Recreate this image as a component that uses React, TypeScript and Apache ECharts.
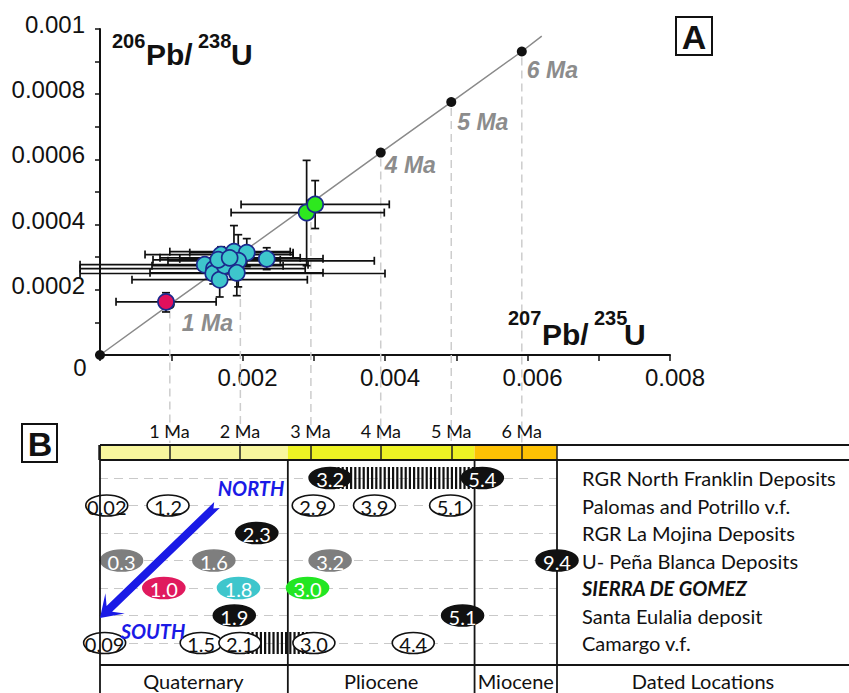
import React, { useEffect, useRef } from 'react';
import * as echarts from 'echarts';

// ---------- Panel A data ----------
const concordiaAges = ['0', '1 Ma', '2 Ma', '3 Ma', '4 Ma', '5 Ma', '6 Ma'];
const concordiaX = [0, 0.00098, 0.00197, 0.00296, 0.00394, 0.00493, 0.00592];
const concordiaY = [0, 0.000155, 0.00031, 0.000466, 0.000621, 0.000776, 0.000931];
const concordiaEnd = [0.0062, 0.000978];
const ageLabelShown = [false, true, false, false, true, true, true];

const cyanX = [0.00147, 0.0016, 0.00159, 0.00168, 0.0017, 0.00175, 0.00166, 0.00188, 0.00206, 0.00194, 0.00192, 0.00234, 0.00182];
const cyanY = [0.000277, 0.000265, 0.00025, 0.000231, 0.000308, 0.000274, 0.000292, 0.000317, 0.000314, 0.000289, 0.000252, 0.000295, 0.000298];
const cyanXLo = [-0.00028, -0.00028, -0.00028, 0.000449, 0.000632, 0.00073, 0.000744, 0.00098, 0.00126, 0.000954, 0.000702, 0.00112, 0.000842];
const cyanXHi = [0.00292, 0.00288, 0.004, 0.00291, 0.00271, 0.00257, 0.00253, 0.00267, 0.00271, 0.00385, 0.00313, 0.00313, 0.00281];
const cyanYLo = [0.000255, 0.000243, 0.000218, 0.000178, 0.000283, 0.000249, 0.000268, 0.000237, 0.000271, 0.000209, 0.000182, 0.000262, 0.000274];
const cyanYHi = [0.000298, 0.000286, 0.000274, 0.000271, 0.000332, 0.000298, 0.000317, 0.000397, 0.000357, 0.000369, 0.000323, 0.000329, 0.000323];

const redX = [0.000926];
const redY = [0.000163];
const redXLo = [0.000225];
const redXHi = [0.00163];
const redYLo = [0.000132];
const redYHi = [0.000191];

const greenX = [0.0029, 0.00302];
const greenY = [0.000437, 0.000462];
const greenXLo = [0.00184, 0.00198];
const greenXHi = [0.00399, 0.00406];
const greenYLo = [0.000274, 0.000388];
const greenYHi = [0.000597, 0.000535];

// ---------- Panel B data ----------
const locations = [
  'RGR North Franklin Deposits',
  'Palomas and Potrillo v.f.',
  'RGR La Mojina Deposits',
  'U- Peña Blanca Deposits',
  'SIERRA DE GOMEZ',
  'Santa Eulalia deposit',
  'Camargo v.f.',
];
const epochNames = ['Quaternary', 'Pliocene', 'Miocene'];
const epochStart = [0, 2.68, 5.33];
const epochEnd = [2.68, 5.33, 6.5];
const epochColors = ['#f8f69e', '#eef324', '#fdc104'];

const dateRow = [0, 0, 1, 1, 1, 1, 1, 2, 3, 3, 3, 3, 4, 4, 4, 5, 5, 6, 6, 6, 6, 6];
const datePos = [3.28, 5.44, 0.11, 0.98, 3.04, 3.91, 4.99, 2.24, 0.32, 1.63, 3.28, 6.5, 0.92, 1.98, 2.96, 1.92, 5.16, 0.08, 1.45, 2.0, 3.05, 4.46];
const dateLabel = ['3.2', '5.4', '0.02', '1.2', '2.9', '3.9', '5.1', '2.3', '0.3', '1.6', '3.2', '9.4', '1.0', '1.8', '3.0', '1.9', '5.1', '0.09', '1.5', '2.1', '3.0', '4.4'];
const dateKind = ['black', 'black', 'open', 'open', 'open', 'open', 'open', 'black', 'gray', 'gray', 'gray', 'black', 'red', 'cyan', 'green', 'black', 'black', 'open', 'open', 'open', 'open', 'open'];

const hatchRow = [0, 6];
const hatchFrom = [3.28, 2.0];
const hatchTo = [5.44, 3.05];

const kindStyle: Record<string, { fill: string; stroke: string; text: string }> = {
  open: { fill: '#ffffff', stroke: '#111111', text: '#111111' },
  black: { fill: '#111111', stroke: '#111111', text: '#ffffff' },
  gray: { fill: '#7e7e7e', stroke: '#7e7e7e', text: '#ffffff' },
  red: { fill: '#e01a5e', stroke: '#e01a5e', text: '#ffffff' },
  cyan: { fill: '#3ec6cc', stroke: '#3ec6cc', text: '#ffffff' },
  green: { fill: '#22e622', stroke: '#22e622', text: '#ffffff' },
};

const SANS = 'Liberation Sans, Arial, sans-serif';
const MYR = 'Lato, Open Sans, sans-serif';

function errorSeries(xs: number[], ys: number[], xlo: number[], xhi: number[], ylo: number[], yhi: number[]) {
  return {
    type: 'custom',
    xAxisIndex: 0,
    yAxisIndex: 0,
    clip: false,
    z: 4,
    silent: true,
    data: xs.map((x, i) => [x, ys[i]]),
    renderItem: (params: any, api: any) => {
      const i = params.dataIndex;
      const c = api.coord([xs[i], ys[i]]);
      const l = api.coord([xlo[i], ys[i]]);
      const r = api.coord([xhi[i], ys[i]]);
      const b = api.coord([xs[i], ylo[i]]);
      const t = api.coord([xs[i], yhi[i]]);
      const cap = 4;
      const st = { stroke: '#101010', lineWidth: 1.7 };
      const ln = (x1: number, y1: number, x2: number, y2: number) => ({ type: 'line', shape: { x1, y1, x2, y2 }, style: st });
      return {
        type: 'group',
        children: [
          ln(l[0], c[1], r[0], c[1]),
          ln(l[0], c[1] - cap, l[0], c[1] + cap),
          ln(r[0], c[1] - cap, r[0], c[1] + cap),
          ln(c[0], b[1], c[0], t[1]),
          ln(c[0] - cap, b[1], c[0] + cap, b[1]),
          ln(c[0] - cap, t[1], c[0] + cap, t[1]),
        ],
      };
    },
  };
}

function pointSeries(xs: number[], ys: number[], color: string) {
  return {
    type: 'scatter',
    xAxisIndex: 0,
    yAxisIndex: 0,
    z: 6,
    symbol: 'circle',
    symbolSize: 16,
    itemStyle: { color, borderColor: '#1b2a8e', borderWidth: 1.7, opacity: 1 },
    data: xs.map((x, i) => [x, ys[i]]),
  };
}

export default function App() {
  const ref = useRef<HTMLDivElement>(null);
  useEffect(() => {
    document.body.style.margin = '0';
    if (!ref.current) return;
    const chart = echarts.init(ref.current, undefined, { renderer: 'svg' });

    const labelPos = [[0, 0], [17, 12], [0, 0], [0, 0], [9, 6], [11, 13], [10, 12]];
    const concordiaData: any[] = concordiaX.map((x, i) => ({
      value: [x, concordiaY[i]],
      label: { show: ageLabelShown[i], formatter: concordiaAges[i], position: labelPos[i] },
    }));
    concordiaData.push({ value: concordiaEnd, symbol: 'none', label: { show: false } });

    const arrowTip = [100, 618];
    const option: any = {
      animation: false,
      backgroundColor: '#ffffff',
      grid: [
        { left: 100, top: 29, width: 570, height: 326, containLabel: false, outerBoundsMode: 'none' },
        { left: 99, top: 478, width: 458, height: 165, containLabel: false, outerBoundsMode: 'none' },
      ],
      xAxis: [
        {
          gridIndex: 0,
          type: 'value',
          min: 0,
          max: 0.008,
          interval: 0.001,
          axisLine: { show: true, lineStyle: { color: '#111', width: 2 } },
          axisTick: { show: true, length: 6, lineStyle: { color: '#111', width: 1.5 } },
          splitLine: { show: false },
          axisLabel: {
            margin: 10,
            fontSize: 24,
            fontFamily: SANS,
            color: '#111',
            padding: [0, 0, 0, 10],
            showMinLabel: true,
            showMaxLabel: true,
            formatter: (v: number) => {
              const k = Math.round(v * 1000);
              if (k === 0 || k % 2 === 1) return '';
              return (k / 1000).toFixed(3);
            },
          },
        },
        {
          gridIndex: 1,
          type: 'value',
          position: 'top',
          offset: 33,
          min: 0,
          max: 6.5,
          interval: 1,
          z: 10,
          axisLine: { show: false },
          axisTick: { show: true, inside: true, length: 15, lineStyle: { color: '#222', width: 1.5 } },
          splitLine: { show: false },
          axisLabel: {
            margin: 5,
            fontSize: 18,
            fontFamily: MYR,
            color: '#111',
            formatter: (v: number) => (v >= 1 && v <= 6 && Math.abs(v - Math.round(v)) < 1e-6 ? `${Math.round(v)} Ma` : ''),
          },
        },
      ],
      yAxis: [
        {
          gridIndex: 0,
          type: 'value',
          min: 0,
          max: 0.001,
          interval: 0.0002,
          axisLine: { show: true, lineStyle: { color: '#111', width: 2 } },
          axisTick: { show: true, length: 5, lineStyle: { color: '#111', width: 1.5 } },
          minorTick: { show: true, splitNumber: 2, length: 5, lineStyle: { color: '#111', width: 1.5 } },
          splitLine: { show: false },
          axisLabel: {
            margin: 15,
            fontSize: 24,
            fontFamily: SANS,
            color: '#111',
            verticalAlign: 'bottom',
            lineHeight: 9,
            showMaxLabel: true,
            formatter: (v: number) => (v === 0 ? '' : String(+v.toFixed(4))),
          },
        },
        {
          gridIndex: 1,
          type: 'category',
          data: locations,
          inverse: true,
          boundaryGap: false,
          position: 'right',
          axisLine: { show: false },
          axisTick: { show: false },
          splitLine: { show: true, lineStyle: { color: '#c9c9c9', width: 1.2, type: [9, 6] } },
          axisLabel: {
            interval: 0,
            margin: 25,
            align: 'left',
            fontSize: 20,
            fontFamily: MYR,
            color: '#111',
            formatter: (v: string) => (v === 'SIERRA DE GOMEZ' ? `{b|${v}}` : v),
            rich: {
              b: { fontSize: 20, fontFamily: MYR, fontWeight: 'bold', fontStyle: 'italic', color: '#111' },
            },
          },
        },
      ],
      series: [
        // dashed age guides
        {
          type: 'custom',
          xAxisIndex: 0,
          yAxisIndex: 0,
          clip: false,
          z: 1,
          silent: true,
          data: concordiaX.slice(1).map((x, i) => [x, concordiaY[i + 1]]),
          renderItem: (params: any, api: any) => {
            const i = params.dataIndex + 1;
            const c = api.coord([concordiaX[i], concordiaY[i]]);
            return {
              type: 'line',
              shape: { x1: c[0], y1: c[1] + 6, x2: c[0], y2: 443 },
              style: { stroke: '#cdcdcd', lineWidth: 1.5, lineDash: [8, 5] },
            };
          },
        },
        errorSeries(cyanX, cyanY, cyanXLo, cyanXHi, cyanYLo, cyanYHi),
        errorSeries(redX, redY, redXLo, redXHi, redYLo, redYHi),
        errorSeries(greenX, greenY, greenXLo, greenXHi, greenYLo, greenYHi),
        {
          type: 'line',
          xAxisIndex: 0,
          yAxisIndex: 0,
          z: 3,
          symbol: 'circle',
          symbolSize: 10,
          showAllSymbol: true,
          itemStyle: { color: '#111' },
          lineStyle: { color: '#8a8a8a', width: 1.5 },
          label: {
            color: '#8c8c8c',
            fontSize: 23,
            fontWeight: 'bold',
            fontStyle: 'italic',
            fontFamily: SANS,
            align: 'left',
            verticalAlign: 'top',
          },
          data: concordiaData,
        },
        pointSeries(cyanX, cyanY, '#3ec6cc'),
        pointSeries(redX, redY, '#e0105c'),
        pointSeries(greenX, greenY, '#2ee81e'),
        // epochs bar + boundaries + names
        {
          type: 'custom',
          xAxisIndex: 1,
          yAxisIndex: 1,
          clip: false,
          z: 2,
          silent: true,
          data: epochStart.map((s) => [s, 0]),
          renderItem: (params: any, api: any) => {
            const i = params.dataIndex;
            const cs = params.coordSys;
            const x0 = api.coord([epochStart[i], 0])[0];
            const x1 = api.coord([epochEnd[i], 0])[0];
            const top = cs.y - 33;
            const bot = cs.y - 18;
            return {
              type: 'group',
              children: [
                { type: 'rect', shape: { x: x0, y: top, width: x1 - x0, height: bot - top }, style: { fill: epochColors[i] } },
                { type: 'line', shape: { x1: x1, y1: bot, x2: x1, y2: 700 }, style: { stroke: '#151515', lineWidth: 1.8 } },
                {
                  type: 'text',
                  style: {
                    text: epochNames[i],
                    x: (x0 + x1) / 2,
                    y: 681,
                    align: 'center',
                    verticalAlign: 'middle',
                    fontSize: 20,
                    fontFamily: MYR,
                    fill: '#111',
                  },
                },
              ],
            };
          },
        },
        // hatches
        {
          type: 'custom',
          xAxisIndex: 1,
          yAxisIndex: 1,
          clip: false,
          z: 3,
          silent: true,
          data: hatchFrom.map((f, i) => [f, hatchRow[i]]),
          renderItem: (params: any, api: any) => {
            const i = params.dataIndex;
            const a = api.coord([hatchFrom[i], hatchRow[i]]);
            const b = api.coord([hatchTo[i], hatchRow[i]]);
            const children: any[] = [];
            for (let x = a[0]; x <= b[0]; x += 4.2) {
              children.push({ type: 'line', shape: { x1: x, y1: a[1] - 11, x2: x, y2: a[1] + 11 }, style: { stroke: '#111', lineWidth: 2.2 } });
            }
            return { type: 'group', children };
          },
        },
        // dated ellipses
        {
          type: 'custom',
          xAxisIndex: 1,
          yAxisIndex: 1,
          clip: false,
          z: 4,
          silent: true,
          data: datePos.map((p, i) => [p, dateRow[i]]),
          renderItem: (params: any, api: any) => {
            const i = params.dataIndex;
            const c = api.coord([datePos[i], dateRow[i]]);
            const k = kindStyle[dateKind[i]];
            return {
              type: 'group',
              children: [
                { type: 'ellipse', shape: { cx: c[0], cy: c[1], rx: 21, ry: 10.5 }, style: { fill: k.fill, stroke: k.stroke, lineWidth: 1.6 } },
                {
                  type: 'text',
                  style: {
                    text: dateLabel[i],
                    x: c[0],
                    y: c[1] + 1,
                    align: 'center',
                    verticalAlign: 'middle',
                    fontSize: 20,
                    fontFamily: MYR,
                    fill: k.text,
                  },
                },
              ],
            };
          },
        },
      ],
      graphic: [
        // axis titles panel A
        { type: 'text', z: 20, style: { text: '206', x: 112, y: 31, fontSize: 20, fontWeight: 'bold', fontFamily: SANS, fill: '#111' } },
        { type: 'text', z: 20, style: { text: 'Pb/', x: 146, y: 39, fontSize: 30, fontWeight: 'bold', fontFamily: SANS, fill: '#111' } },
        { type: 'text', z: 20, style: { text: '238', x: 198, y: 31, fontSize: 20, fontWeight: 'bold', fontFamily: SANS, fill: '#111' } },
        { type: 'text', z: 20, style: { text: 'U', x: 231, y: 39, fontSize: 30, fontWeight: 'bold', fontFamily: SANS, fill: '#111' } },
        { type: 'text', z: 20, style: { text: '207', x: 508, y: 308, fontSize: 20, fontWeight: 'bold', fontFamily: SANS, fill: '#111' } },
        { type: 'text', z: 20, style: { text: 'Pb/', x: 542, y: 319, fontSize: 30, fontWeight: 'bold', fontFamily: SANS, fill: '#111' } },
        { type: 'text', z: 20, style: { text: '235', x: 594, y: 308, fontSize: 20, fontWeight: 'bold', fontFamily: SANS, fill: '#111' } },
        { type: 'text', z: 20, style: { text: 'U', x: 624, y: 319, fontSize: 30, fontWeight: 'bold', fontFamily: SANS, fill: '#111' } },
        { type: 'text', z: 20, style: { text: '0', x: 80, y: 367, align: 'center', verticalAlign: 'middle', fontSize: 24, fontFamily: SANS, fill: '#111' } },
        // A box
        { type: 'rect', z: 20, shape: { x: 676, y: 17, width: 36, height: 38 }, style: { fill: '#fff', stroke: '#111', lineWidth: 2 } },
        { type: 'text', z: 21, style: { text: 'A', x: 694, y: 37, align: 'center', verticalAlign: 'middle', fontSize: 34, fontWeight: 'bold', fontFamily: SANS, fill: '#111' } },
        // B box
        { type: 'rect', z: 20, shape: { x: 22, y: 424, width: 35, height: 38 }, style: { fill: '#fff', stroke: '#111', lineWidth: 2 } },
        { type: 'text', z: 21, style: { text: 'B', x: 40, y: 444, align: 'center', verticalAlign: 'middle', fontSize: 34, fontWeight: 'bold', fontFamily: SANS, fill: '#111' } },
        // table lines
        { type: 'line', z: 20, shape: { x1: 100, y1: 445, x2: 849, y2: 445 }, style: { stroke: '#151515', lineWidth: 1.8 } },
        { type: 'line', z: 20, shape: { x1: 100, y1: 460, x2: 849, y2: 460 }, style: { stroke: '#151515', lineWidth: 1.8 } },
        { type: 'line', z: 20, shape: { x1: 100, y1: 665, x2: 849, y2: 665 }, style: { stroke: '#151515', lineWidth: 1.8 } },
        { type: 'line', z: 20, shape: { x1: 100, y1: 445, x2: 100, y2: 693 }, style: { stroke: '#151515', lineWidth: 1.8 } },
        { type: 'text', z: 20, style: { text: 'Dated Locations', x: 703, y: 681, align: 'center', verticalAlign: 'middle', fontSize: 20, fontFamily: MYR, fill: '#111' } },
        // arrow
        {
          type: 'polygon',
          z: 30,
          shape: {
            points: [
              [219.8, 507.9],
              [112.1, 611.8],
              [124.8, 613.5],
              arrowTip,
              [105.4, 593.3],
              [106.6, 606.1],
              [214.2, 502.1],
              [213.4, 508.5],
            ],
          },
          style: { fill: '#1a1ae6' },
        },
        { type: 'text', z: 30, style: { text: 'NORTH', x: 251, y: 488, align: 'center', verticalAlign: 'middle', fontSize: 20, fontWeight: 'bold', fontStyle: 'italic', fontFamily: MYR, fill: '#1a1ae6' } },
        { type: 'text', z: 30, style: { text: 'SOUTH', x: 153, y: 631, align: 'center', verticalAlign: 'middle', fontSize: 20, fontWeight: 'bold', fontStyle: 'italic', fontFamily: MYR, fill: '#1a1ae6' } },
      ],
    };
    chart.setOption(option);
    return () => chart.dispose();
  }, []);
  return <div ref={ref} style={{ width: 849, height: 693 }} />;
}
